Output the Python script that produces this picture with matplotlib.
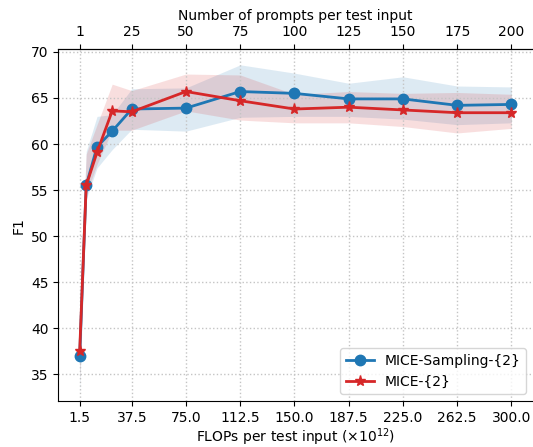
import matplotlib as mpl
mpl.use('Agg')
import matplotlib.pyplot as plt
import numpy as np

# data
prompts = [1, 4, 9, 16, 25, 50, 75, 100, 125, 150, 175, 200]
flops = [1.5, 6.0, 13.5, 24.0, 37.5, 75.0, 112.5, 150.0, 187.5, 225.0, 262.5, 300.0]

sampling_f1 = [37.0, 55.5, 59.7, 61.4, 63.8, 63.9, 65.7, 65.5, 64.9, 64.9, 64.2, 64.3]
sampling_lo = [33.0, 54.0, 57.4, 59.4, 61.6, 61.4, 62.9, 63.0, 63.0, 62.7, 62.1, 62.3]
sampling_hi = [41.0, 59.2, 63.0, 63.2, 66.0, 66.1, 68.6, 67.7, 66.6, 67.3, 66.3, 66.2]

mice_f1 = [37.5, 55.5, 59.1, 63.6, 63.5, 65.7, 64.7, 63.8, 64.0, 63.7, 63.4, 63.4]
mice_lo = [34.0, 54.5, 57.8, 61.5, 61.5, 63.6, 62.6, 62.3, 62.3, 61.9, 61.2, 61.7]
mice_hi = [41.0, 58.9, 62.1, 66.5, 65.8, 67.6, 67.5, 65.4, 65.7, 65.5, 65.6, 65.4]

x_ticks = [1.5, 37.5, 75.0, 112.5, 150.0, 187.5, 225.0, 262.5, 300.0]
top_ticks = [1, 25, 50, 75, 100, 125, 150, 175, 200]
y_ticks = [35, 40, 45, 50, 55, 60, 65, 70]

fig, ax = plt.subplots(figsize=(5.33, 4.47), dpi=100)
fig.subplots_adjust(left=0.109, right=1.0, top=0.89, bottom=0.103)

ax.fill_between(flops, sampling_lo, sampling_hi, color='tab:blue', alpha=0.15, linewidth=0)
ax.fill_between(flops, mice_lo, mice_hi, color='tab:red', alpha=0.15, linewidth=0)
ax.plot(flops, sampling_f1, color='tab:blue', marker='o', markersize=7.5,
        linewidth=2, label='MICE-Sampling-{2}')
ax.plot(flops, mice_f1, color='tab:red', marker='*', markersize=8,
        linewidth=2, label='MICE-{2}')

ax.set_xticks(x_ticks)
ax.set_xticklabels(['%.1f' % t for t in x_ticks])
ax.set_yticks(y_ticks)
ax.set_ylim(32.1, 70.3)
ax.grid(True, linestyle=':', color='#c4c4c4', linewidth=1)
ax.spines['right'].set_visible(False)

ax.set_xlabel(r'FLOPs per test input ($\times 10^{12}$)', labelpad=1)
ax.set_ylabel('F1')

top = ax.secondary_xaxis('top', functions=(lambda v: np.asarray(v) / 1.5,
                                           lambda v: np.asarray(v) * 1.5))
top.set_xticks(top_ticks)
top.set_xticklabels([str(t) for t in top_ticks])
top.set_xlabel('Number of prompts per test input')

ax.legend(loc='lower right')

plt.savefig('out.png', dpi=100)
